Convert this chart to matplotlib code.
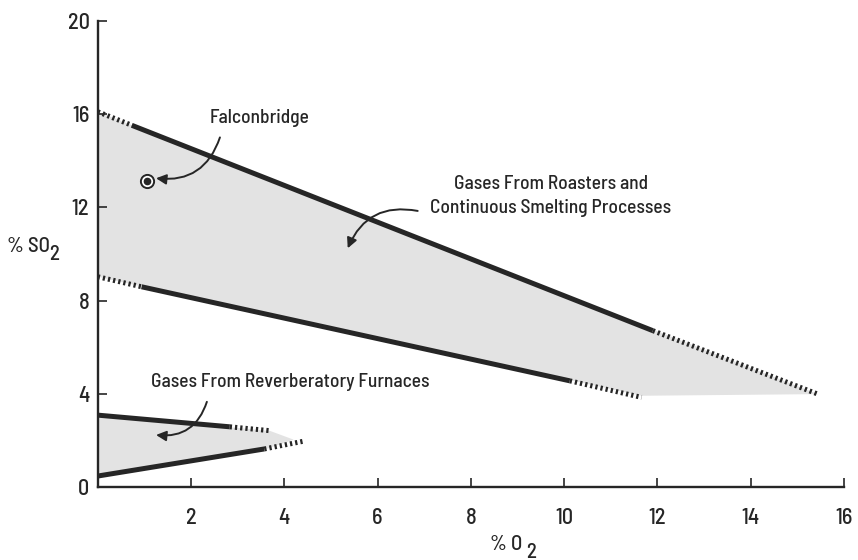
import matplotlib.pyplot as plt

plt.rcParams['font.family'] = ['Barlow Semi Condensed', 'DejaVu Sans']
plt.rcParams['font.weight'] = 'medium'

INK = '#262626'
SHADE = '#e3e3e3'

# roasters / continuous smelting band (x = % O2, y = % SO2)
roast_top_solid_x = [0.73, 11.9]
roast_top_solid_y = [15.52, 6.72]
roast_top_dot_x = [0.0, 0.73, None, 11.9, 15.44]
roast_top_dot_y = [16.1, 15.52, None, 6.72, 4.0]
roast_low_solid_x = [0.94, 10.12]
roast_low_solid_y = [8.6, 4.57]
roast_low_dot_x = [0.0, 0.94, None, 10.12, 11.66]
roast_low_dot_y = [9.03, 8.6, None, 4.57, 3.86]
roast_area_x = [0.0, 15.44, 11.66, 0.0]
roast_area_y = [16.1, 4.0, 3.93, 9.03]

# reverberatory furnace band
reverb_top_solid_x = [0.0, 2.83]
reverb_top_solid_y = [3.1, 2.6]
reverb_top_dot_x = [2.83, 3.71]
reverb_top_dot_y = [2.6, 2.43]
reverb_low_solid_x = [0.0, 3.57]
reverb_low_solid_y = [0.49, 1.65]
reverb_low_dot_x = [3.57, 4.43]
reverb_low_dot_y = [1.65, 1.99]
reverb_area_x = [0.0, 3.7, 4.2, 3.57, 0.0]
reverb_area_y = [3.1, 2.42, 2.05, 1.62, 0.45]

# single plant point
falcon_x = 1.05
falcon_y = 13.14

x_ticks = [2, 4, 6, 8, 10, 12, 14, 16]
y_ticks = [0, 4, 8, 12, 16, 20]

fig = plt.figure(figsize=(8.58, 5.6), dpi=100)
ax = fig.add_axes([0.1139, 0.1295, 0.8698, 0.8335])

ax.fill(roast_area_x, roast_area_y, color=SHADE, lw=0, zorder=1)
ax.fill(reverb_area_x, reverb_area_y, color=SHADE, lw=0, zorder=1)

solid = dict(color=INK, lw=3.6, solid_capstyle='butt', zorder=3)
dotted = dict(color=INK, lw=3.6, linestyle=(0, (0.45, 0.6)),
              dash_capstyle='butt', zorder=3)

for xs, ys in [(roast_top_solid_x, roast_top_solid_y),
               (roast_low_solid_x, roast_low_solid_y),
               (reverb_top_solid_x, reverb_top_solid_y),
               (reverb_low_solid_x, reverb_low_solid_y)]:
    ax.plot(xs, ys, **solid)

for xs, ys in [(roast_top_dot_x, roast_top_dot_y),
               (roast_low_dot_x, roast_low_dot_y),
               (reverb_top_dot_x, reverb_top_dot_y),
               (reverb_low_dot_x, reverb_low_dot_y)]:
    xs = [float('nan') if v is None else v for v in xs]
    ys = [float('nan') if v is None else v for v in ys]
    ax.plot(xs, ys, **dotted)

ax.plot(falcon_x, falcon_y, 'o', ms=9.5, mfc='white', mec=INK, mew=1.4, zorder=4)
ax.plot(falcon_x, falcon_y, 'o', ms=4.5, color=INK, zorder=5)

# labels and curved pointers
ax.text(3.46, 15.85, 'Falconbridge', fontsize=14, ha='center', va='center', color=INK)
ax.text(9.71, 12.48, 'Gases From Roasters and\nContinuous Smelting Processes',
        fontsize=14, ha='center', va='center', color=INK, linespacing=1.45)
ax.text(4.12, 4.53, 'Gases From Reverberatory Furnaces', fontsize=14,
        ha='center', va='center', color=INK)

arrow = dict(arrowstyle='-|>', color=INK, lw=1.4, mutation_scale=15,
             shrinkA=0, shrinkB=0)
ax.annotate('', xy=(1.25, 13.25), xytext=(2.62, 15.0),
            arrowprops=dict(arrow, connectionstyle='arc3,rad=-0.4'))
ax.annotate('', xy=(5.36, 10.25), xytext=(6.86, 11.85),
            arrowprops=dict(arrow, connectionstyle='arc3,rad=0.4'))
ax.annotate('', xy=(1.25, 2.25), xytext=(2.34, 3.67),
            arrowprops=dict(arrow, connectionstyle='arc3,rad=-0.4'))

ax.set_xlim(0, 16)
ax.set_ylim(0, 20)
ax.set_xticks(x_ticks)
ax.set_yticks(y_ticks)
for side in ['top', 'right']:
    ax.spines[side].set_visible(False)
for side in ['left', 'bottom']:
    ax.spines[side].set_linewidth(1.7)
    ax.spines[side].set_color(INK)
ax.tick_params(axis='both', direction='in', length=6.5, width=1.2,
               colors=INK, labelsize=16)
ax.tick_params(axis='x', pad=15)
ax.tick_params(axis='y', pad=6)

fig.text(7 / 858, 1 - 247 / 560, '% SO', fontsize=15, ha='left', va='center', color=INK)
fig.text(49 / 858, 1 - 255 / 560, '2', fontsize=15, ha='left', va='center', color=INK)
fig.text(490 / 858, 1 - 545 / 560, '% O', fontsize=15, ha='left', va='center', color=INK)
fig.text(526 / 858, 1 - 552 / 560, '2', fontsize=15, ha='left', va='center', color=INK)

fig.savefig('out.png', dpi=100)
